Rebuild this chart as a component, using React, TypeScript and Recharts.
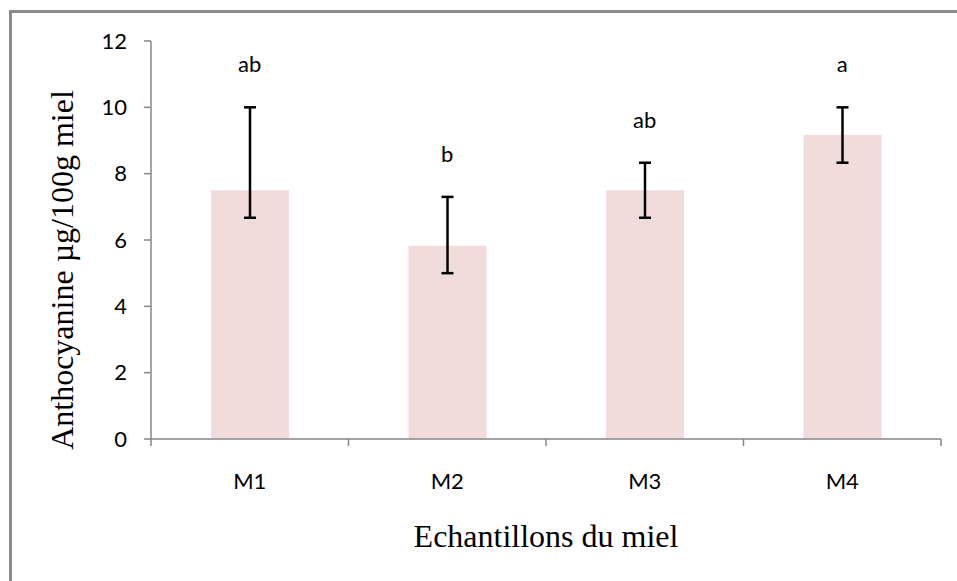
import {
  ComposedChart,
  Bar,
  Line,
  XAxis,
  YAxis,
  ErrorBar,
  LabelList,
  Label,
} from 'recharts';

// Anthocyanin content per honey sample
const samples = ['M1', 'M2', 'M3', 'M4'];
const means = [7.5, 5.83, 7.5, 9.17];
const upperBounds = [10, 7.3, 8.33, 10];
const lowerBounds = [6.67, 5.0, 6.67, 8.33];
const groups = ['ab', 'b', 'ab', 'a'];
const yTicks = [0, 2, 4, 6, 8, 10, 12];

const data = samples.map((name, i) => ({
  name,
  value: means[i],
  hi: upperBounds[i],
  // ErrorBar takes [minus, plus] offsets from the mean
  err: [means[i] - lowerBounds[i], upperBounds[i] - means[i]],
  group: groups[i],
}));

const WIDTH = 957;
const HEIGHT = 581;
const MARGIN = { top: 41, right: 16, bottom: 0, left: 0 };
const Y_AXIS_W = 151;
const X_AXIS_H = 142;
const PLOT_W = WIDTH - MARGIN.left - MARGIN.right - Y_AXIS_W;
const BAND = PLOT_W / samples.length;

const AXIS_COLOR = '#868686';
const BAR_COLOR = '#f2dcdb';
const TICK_FONT = 'Lato, "Open Sans", sans-serif';
const TICK_SIZE = 22;
const TITLE_FONT = '"Liberation Serif", "DejaVu Serif", serif';

// Category tick: label in the middle, tick marks on the band edges
function CategoryTick(props: any) {
  const { x, y, payload, index } = props;
  const half = BAND / 2;
  return (
    <g>
      <line x1={x - half} y1={y} x2={x - half} y2={y + 7} stroke={AXIS_COLOR} strokeWidth={1.5} />
      {index === samples.length - 1 && (
        <line x1={x + half} y1={y} x2={x + half} y2={y + 7} stroke={AXIS_COLOR} strokeWidth={1.5} />
      )}
      <text x={x} y={y + 50} textAnchor="middle" fill="#000" fontSize={TICK_SIZE} fontFamily={TICK_FONT}>
        {payload.value}
      </text>
    </g>
  );
}

function YTitle() {
  return (
    <text
      x={73}
      y={270}
      transform="rotate(-90, 73, 270)"
      textAnchor="middle"
      fill="#000"
      fontSize={32}
      fontFamily={TITLE_FONT}
    >
      Anthocyanine µg/100g miel
    </text>
  );
}

export default function App() {
  return (
    <div
      style={{
        position: 'absolute',
        left: 0,
        top: 0,
        width: WIDTH,
        height: HEIGHT,
        background: '#fff',
        overflow: 'hidden',
      }}
    >
      <div
        style={{
          position: 'absolute',
          left: 9,
          top: 10,
          width: WIDTH,
          height: HEIGHT,
          borderLeft: '3px solid #8a8a8a',
          borderTop: '3px solid #8a8a8a',
        }}
      />
      <div style={{ position: 'absolute', left: 0, top: 0 }}>
        <ComposedChart width={WIDTH} height={HEIGHT} data={data} margin={MARGIN}>
          <XAxis
            dataKey="name"
            height={X_AXIS_H}
            tickLine={false}
            tickSize={0}
            tickMargin={0}
            stroke={AXIS_COLOR}
            strokeWidth={1.5}
            tick={<CategoryTick />}
            interval={0}
          >
            <Label
              value="Echantillons du miel"
              position="insideBottom"
              offset={34}
              fill="#000"
              fontSize={32}
              fontFamily={TITLE_FONT}
            />
          </XAxis>
          <YAxis
            width={Y_AXIS_W}
            domain={[0, 12]}
            ticks={yTicks}
            interval={0}
            tickSize={7}
            tickMargin={17}
            stroke={AXIS_COLOR}
            strokeWidth={1.5}
            tick={{ fill: '#000', fontSize: TICK_SIZE, fontFamily: TICK_FONT }}
            label={<YTitle />}
          />
          <Bar dataKey="value" fill={BAR_COLOR} barSize={78} isAnimationActive={false}>
            <ErrorBar dataKey="err" width={6} stroke="#000" strokeWidth={2.5} direction="y" />
          </Bar>
          <Line
            dataKey="hi"
            stroke="none"
            dot={false}
            activeDot={false}
            legendType="none"
            isAnimationActive={false}
          >
            <LabelList
              dataKey="group"
              position="top"
              offset={35}
              fill="#000"
              fontSize={TICK_SIZE}
              fontFamily={TICK_FONT}
            />
          </Line>
        </ComposedChart>
      </div>
    </div>
  );
}
